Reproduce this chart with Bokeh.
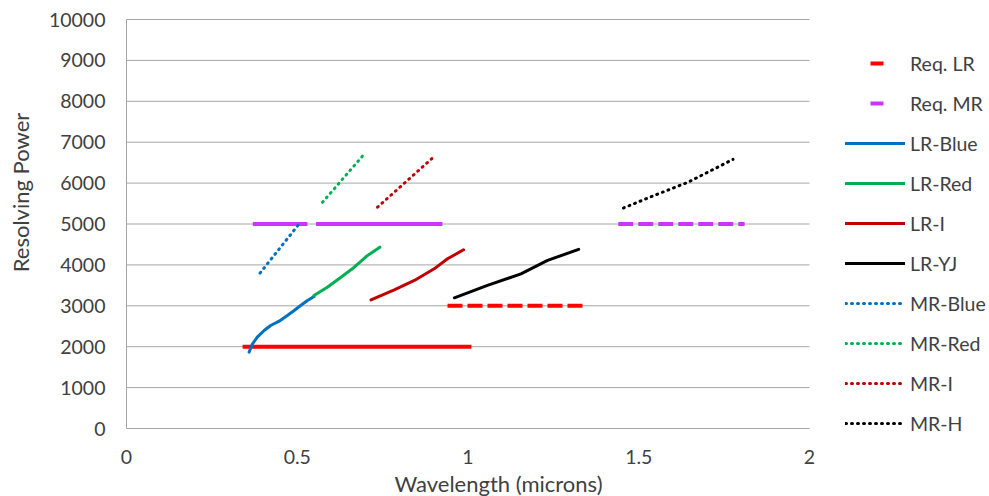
import math
from bokeh.plotting import figure
from bokeh.models import Legend, LegendItem, FixedTicker, Range1d, LinearAxis, Label
from bokeh.embed import file_html
from bokeh.resources import INLINE

# ---- data ----
x_ticks = [0, 0.5, 1, 1.5, 2]
x_tick_labels = ["0", "0.5", "1", "1.5", "2"]
y_ticks = [0, 1000, 2000, 3000, 4000, 5000, 6000, 7000, 8000, 9000, 10000]

# requirement lines
req_lr_a_x = [0.34, 1.01]
req_lr_a_y = [2000, 2000]
req_lr_b_x = [0.94, 1.34]
req_lr_b_y = [3000, 3000]
req_mr_a_x = [0.37, 0.53]
req_mr_a_y = [5000, 5000]
req_mr_b_x = [0.555, 0.925]
req_mr_b_y = [5000, 5000]
req_mr_c_x = [1.44, 1.81]
req_mr_c_y = [5000, 5000]

# low resolution arms
lr_blue_x = [0.359, 0.369, 0.383, 0.403, 0.422, 0.447, 0.471, 0.491, 0.510, 0.530, 0.549]
lr_blue_y = [1866, 2071, 2233, 2396, 2518, 2624, 2763, 2885, 3007, 3130, 3227]
lr_red_x = [0.549, 0.588, 0.628, 0.667, 0.706, 0.742]
lr_red_y = [3250, 3455, 3700, 3944, 4230, 4433]
lr_i_x = [0.716, 0.784, 0.843, 0.901, 0.940, 0.987]
lr_i_y = [3146, 3390, 3619, 3904, 4149, 4369]
lr_yj_x = [0.960, 1.057, 1.155, 1.233, 1.324]
lr_yj_y = [3195, 3500, 3780, 4110, 4380]

# medium resolution arms
mr_blue_x = [0.391, 0.510]
mr_blue_y = [3800, 5050]
mr_red_x = [0.574, 0.691]
mr_red_y = [5530, 6660]
mr_i_x = [0.735, 0.897]
mr_i_y = [5410, 6620]
mr_h_x = [1.455, 1.546, 1.644, 1.776]
mr_h_y = [5390, 5700, 6020, 6580]

# ---- style / layout ----
FONT = "Lato"
TXT = "#404040"
GRID = "#A6A6A6"
C_REQ_LR = "#FF0000"
C_REQ_MR = "#CC33FF"
C_BLUE = "#0070C0"
C_GREEN = "#00B050"
C_DRED = "#C00000"
C_BLACK = "#000000"

W, H = 989, 496
PX_X0, PX_X2 = 126, 809      # pixel columns of x=0 and x=2
PX_Y0, PX_YTOP = 428, 19     # pixel rows of y=0 and y=10000
ppx = (PX_X2 - PX_X0) / (x_ticks[-1] - x_ticks[0])
ppy = (PX_Y0 - PX_YTOP) / (y_ticks[-1] - y_ticks[0])
x_range = Range1d(x_ticks[0] - PX_X0 / ppx, x_ticks[-1] + (W - PX_X2) / ppx)
y_range = Range1d(y_ticks[0] - (H - PX_Y0) / ppy, y_ticks[-1] + PX_YTOP / ppy)

p = figure(width=W, height=H, output_backend="svg", toolbar_location=None,
           x_range=x_range, y_range=y_range,
           x_axis_location=None, y_axis_location=None,
           min_border=0, min_border_left=0, min_border_right=0,
           min_border_top=0, min_border_bottom=0)
p.outline_line_color = None
p.background_fill_color = "white"
p.border_fill_color = "white"
p.grid.visible = False

# horizontal gridlines over the 0..2 data area
p.segment(x0=[x_ticks[0]] * len(y_ticks), y0=y_ticks,
          x1=[x_ticks[-1]] * len(y_ticks), y1=y_ticks,
          line_color=GRID, line_width=1, level="underlay")

def style_axis(ax):
    ax.axis_line_color = GRID
    ax.major_tick_line_color = None
    ax.minor_tick_line_color = None
    ax.major_tick_out = 0
    ax.major_tick_in = 0
    ax.major_label_text_font = FONT
    ax.major_label_text_font_size = "19.5px"
    ax.major_label_text_color = TXT

xaxis = LinearAxis(fixed_location=y_ticks[0], bounds=(x_ticks[0], x_ticks[-1]),
                   ticker=FixedTicker(ticks=x_ticks),
                   major_label_overrides=dict(zip(x_ticks, x_tick_labels)))
style_axis(xaxis)
xaxis.major_label_standoff = 21
p.add_layout(xaxis, "below")

yaxis = LinearAxis(fixed_location=x_ticks[0], bounds=(y_ticks[0], y_ticks[-1]),
                   ticker=FixedTicker(ticks=y_ticks))
style_axis(yaxis)
yaxis.major_label_standoff = 21
p.add_layout(yaxis, "left")

# axis titles
p.add_layout(Label(x=20, y=H - 192, x_units="screen", y_units="screen",
                   text="Resolving Power", angle=math.pi / 2,
                   text_align="center", text_baseline="middle",
                   text_font=FONT, text_font_size="22px", text_color=TXT))
p.add_layout(Label(x=498, y=H - 483, x_units="screen", y_units="screen",
                   text="Wavelength (microns)",
                   text_align="center", text_baseline="middle",
                   text_font=FONT, text_font_size="22px", text_color=TXT))

# requirement lines
p.line(req_lr_a_x, req_lr_a_y, line_color=C_REQ_LR, line_width=4)
p.line(req_lr_b_x, req_lr_b_y, line_color=C_REQ_LR, line_width=4, line_dash="15 5")
p.line(req_mr_a_x, req_mr_a_y, line_color=C_REQ_MR, line_width=4)
p.line(req_mr_b_x, req_mr_b_y, line_color=C_REQ_MR, line_width=4)
p.line(req_mr_c_x, req_mr_c_y, line_color=C_REQ_MR, line_width=4, line_dash="15 5")

# legend-only proxies (short centred dash) for the requirement entries
nan = float("nan")
leg_req_lr = p.line([nan], [nan], line_color=C_REQ_LR, line_width=4,
                    line_dash="13 47", line_dash_offset=35)
leg_req_mr = p.line([nan], [nan], line_color=C_REQ_MR, line_width=4,
                    line_dash="13 47", line_dash_offset=35)

r_lr_blue = p.line(lr_blue_x, lr_blue_y, line_color=C_BLUE, line_width=3, line_cap="round", line_join="round")
r_lr_red = p.line(lr_red_x, lr_red_y, line_color=C_GREEN, line_width=3, line_cap="round", line_join="round")
r_lr_i = p.line(lr_i_x, lr_i_y, line_color=C_DRED, line_width=3, line_cap="round", line_join="round")
r_lr_yj = p.line(lr_yj_x, lr_yj_y, line_color=C_BLACK, line_width=3, line_cap="round", line_join="round")

dot = dict(line_width=3, line_dash="1 5", line_cap="round")
r_mr_blue = p.line(mr_blue_x, mr_blue_y, line_color=C_BLUE, **dot)
r_mr_red = p.line(mr_red_x, mr_red_y, line_color=C_GREEN, **dot)
r_mr_i = p.line(mr_i_x, mr_i_y, line_color=C_DRED, **dot)
r_mr_h = p.line(mr_h_x, mr_h_y, line_color=C_BLACK, **dot)

items = [
    LegendItem(label="Req. LR", renderers=[leg_req_lr]),
    LegendItem(label="Req. MR", renderers=[leg_req_mr]),
    LegendItem(label="LR-Blue", renderers=[r_lr_blue]),
    LegendItem(label="LR-Red", renderers=[r_lr_red]),
    LegendItem(label="LR-I", renderers=[r_lr_i]),
    LegendItem(label="LR-YJ", renderers=[r_lr_yj]),
    LegendItem(label="MR-Blue", renderers=[r_mr_blue]),
    LegendItem(label="MR-Red", renderers=[r_mr_red]),
    LegendItem(label="MR-I", renderers=[r_mr_i]),
    LegendItem(label="MR-H", renderers=[r_mr_h]),
]
legend = Legend(items=items, location=(845, 60), orientation="vertical",
                glyph_width=60, glyph_height=26, label_height=26, spacing=14,
                padding=0, margin=0, border_line_color=None,
                background_fill_alpha=0, label_standoff=5,
                label_text_font=FONT, label_text_font_size="19.5px",
                label_text_color=TXT)
p.add_layout(legend)

open("out.html", "w").write(file_html(p, INLINE))
